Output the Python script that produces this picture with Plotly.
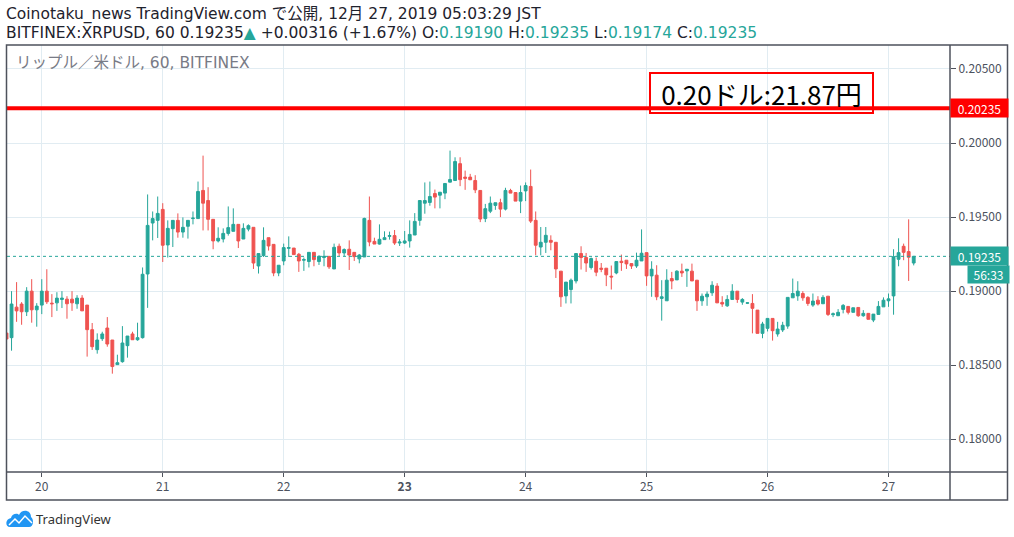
import pandas as pd
import plotly.graph_objects as go

# BITFINEX:XRPUSD 60 min candles (JST)
start_time = '2019-12-19 17:00'

opens = [0.18717, 0.18686, 0.18892, 0.18913, 0.18861, 0.19000, 0.18874, 0.18906, 0.19000, 0.18919,
         0.18921, 0.18944, 0.18946, 0.18946, 0.18915, 0.18953, 0.18906, 0.18740, 0.18605, 0.18679,
         0.18751, 0.18670, 0.18504, 0.18524, 0.18632, 0.18711, 0.18672, 0.18686, 0.19116, 0.19460,
         0.19478, 0.19552, 0.19312, 0.19422, 0.19478, 0.19399, 0.19438, 0.19490, 0.19490, 0.19680,
         0.19612, 0.19485, 0.19339, 0.19352, 0.19390, 0.19404, 0.19451, 0.19352, 0.19419, 0.19431,
         0.19170, 0.19240, 0.19361, 0.19316, 0.19123, 0.19204, 0.19289, 0.19291, 0.19249, 0.19209,
         0.19200, 0.19262, 0.19200, 0.19227, 0.19235, 0.19150, 0.19303, 0.19258, 0.19283, 0.19262,
         0.19218, 0.19231, 0.19478, 0.19336, 0.19318, 0.19348, 0.19370, 0.19375, 0.19325, 0.19325,
         0.19339, 0.19379, 0.19478, 0.19594, 0.19599, 0.19659, 0.19648, 0.19662, 0.19736, 0.19747,
         0.19861, 0.19770, 0.19770, 0.19747, 0.19680, 0.19490, 0.19540, 0.19579, 0.19597, 0.19554,
         0.19680, 0.19666, 0.19608, 0.19677, 0.19707, 0.19478, 0.19298, 0.19330, 0.19343, 0.19330,
         0.19135, 0.18968, 0.19011, 0.19069, 0.19254, 0.19227, 0.19160, 0.19202, 0.19155, 0.19155,
         0.19101, 0.19123, 0.19202, 0.19209, 0.19186, 0.19170, 0.19204, 0.19260, 0.19103, 0.19108,
         0.18951, 0.18935, 0.19085, 0.19076, 0.19135, 0.19137, 0.19135, 0.19074, 0.18935, 0.18962,
         0.18989, 0.19034, 0.18924, 0.18901, 0.18944, 0.19000, 0.18926, 0.18919, 0.18917, 0.18872,
         0.18715, 0.18749, 0.18816, 0.18711, 0.18738, 0.18764, 0.18955, 0.18968, 0.18984, 0.18958,
         0.18906, 0.18939, 0.18915, 0.18966, 0.18841, 0.18834, 0.18877, 0.18897, 0.18857, 0.18890,
         0.18834, 0.18850, 0.18805, 0.18843, 0.18894, 0.18935, 0.18968, 0.19215, 0.19303, 0.19267,
         0.19190]
highs = [0.18717, 0.19000, 0.19061, 0.18926, 0.19027, 0.19081, 0.18919, 0.19081, 0.19148, 0.18980,
         0.18993, 0.19000, 0.18966, 0.19000, 0.18973, 0.18973, 0.18906, 0.18785, 0.18715, 0.18726,
         0.18825, 0.18670, 0.18571, 0.18764, 0.18697, 0.18726, 0.18787, 0.19160, 0.19653, 0.19538,
         0.19639, 0.19594, 0.19478, 0.19478, 0.19525, 0.19498, 0.19478, 0.19538, 0.19740, 0.19915,
         0.19702, 0.19485, 0.19431, 0.19424, 0.19572, 0.19559, 0.19451, 0.19458, 0.19451, 0.19431,
         0.19254, 0.19431, 0.19361, 0.19316, 0.19175, 0.19321, 0.19370, 0.19291, 0.19258, 0.19227,
         0.19262, 0.19262, 0.19242, 0.19276, 0.19235, 0.19321, 0.19321, 0.19289, 0.19343, 0.19262,
         0.19251, 0.19496, 0.19639, 0.19361, 0.19451, 0.19404, 0.19402, 0.19413, 0.19352, 0.19406,
         0.19478, 0.19527, 0.19612, 0.19734, 0.19740, 0.19686, 0.19668, 0.19727, 0.19949, 0.19904,
         0.19904, 0.19814, 0.19792, 0.19783, 0.19680, 0.19589, 0.19639, 0.19597, 0.19624, 0.19698,
         0.19691, 0.19666, 0.19713, 0.19734, 0.19821, 0.19538, 0.19433, 0.19433, 0.19377, 0.19330,
         0.19135, 0.19061, 0.19085, 0.19254, 0.19303, 0.19258, 0.19227, 0.19227, 0.19190, 0.19155,
         0.19173, 0.19200, 0.19247, 0.19209, 0.19186, 0.19260, 0.19417, 0.19260, 0.19202, 0.19175,
         0.19074, 0.19148, 0.19130, 0.19141, 0.19186, 0.19148, 0.19186, 0.19074, 0.18984, 0.18998,
         0.19067, 0.19054, 0.18966, 0.18973, 0.19047, 0.19000, 0.18953, 0.18926, 0.18980, 0.18872,
         0.18793, 0.18816, 0.18816, 0.18793, 0.18793, 0.18958, 0.19085, 0.19067, 0.19000, 0.18966,
         0.18984, 0.18966, 0.18973, 0.18966, 0.18856, 0.18879, 0.18913, 0.18897, 0.18888, 0.18890,
         0.18872, 0.18850, 0.18845, 0.18933, 0.18958, 0.18984, 0.19283, 0.19357, 0.19321, 0.19485,
         0.19235]
lows = [0.18677, 0.18598, 0.18793, 0.18773, 0.18832, 0.18787, 0.18760, 0.18845, 0.18913, 0.18825,
        0.18867, 0.18886, 0.18814, 0.18867, 0.18881, 0.18867, 0.18558, 0.18603, 0.18578, 0.18664,
        0.18625, 0.18443, 0.18504, 0.18517, 0.18551, 0.18672, 0.18665, 0.18680, 0.18887, 0.19343,
        0.19359, 0.19197, 0.19227, 0.19298, 0.19361, 0.19361, 0.19355, 0.19451, 0.19490, 0.19410,
        0.19410, 0.19283, 0.19329, 0.19329, 0.19375, 0.19404, 0.19291, 0.19352, 0.19404, 0.19150,
        0.19119, 0.19231, 0.19274, 0.19101, 0.19101, 0.19175, 0.19231, 0.19247, 0.19130, 0.19137,
        0.19160, 0.19168, 0.19177, 0.19168, 0.19150, 0.19150, 0.19236, 0.19236, 0.19143, 0.19204,
        0.19188, 0.19231, 0.19303, 0.19318, 0.19314, 0.19348, 0.19348, 0.19312, 0.19305, 0.19318,
        0.19294, 0.19379, 0.19442, 0.19523, 0.19577, 0.19559, 0.19559, 0.19621, 0.19736, 0.19747,
        0.19709, 0.19684, 0.19752, 0.19662, 0.19466, 0.19466, 0.19527, 0.19549, 0.19500, 0.19545,
        0.19662, 0.19608, 0.19527, 0.19608, 0.19460, 0.19242, 0.19242, 0.19258, 0.19276, 0.19089,
        0.18894, 0.18917, 0.18917, 0.19052, 0.19146, 0.19130, 0.19146, 0.19101, 0.19128, 0.19034,
        0.19011, 0.19114, 0.19137, 0.19150, 0.19150, 0.19157, 0.19204, 0.19036, 0.18962, 0.18939,
        0.18801, 0.18935, 0.19013, 0.19076, 0.19096, 0.19029, 0.19069, 0.18867, 0.18901, 0.18901,
        0.18968, 0.18921, 0.18894, 0.18894, 0.18944, 0.18921, 0.18908, 0.18913, 0.18715, 0.18715,
        0.18682, 0.18728, 0.18666, 0.18693, 0.18724, 0.18746, 0.18955, 0.18935, 0.18935, 0.18901,
        0.18894, 0.18903, 0.18915, 0.18832, 0.18825, 0.18832, 0.18850, 0.18843, 0.18857, 0.18827,
        0.18827, 0.18810, 0.18791, 0.18843, 0.18894, 0.18894, 0.18841, 0.19168, 0.19209, 0.19069,
        0.19174]
closes = [0.18677, 0.18913, 0.18867, 0.18861, 0.19000, 0.18874, 0.18899, 0.19000, 0.18928, 0.18915,
          0.18953, 0.18953, 0.18915, 0.18921, 0.18953, 0.18867, 0.18740, 0.18625, 0.18670, 0.18711,
          0.18643, 0.18491, 0.18517, 0.18650, 0.18697, 0.18672, 0.18686, 0.19114, 0.19444, 0.19490,
          0.19525, 0.19310, 0.19424, 0.19478, 0.19399, 0.19431, 0.19478, 0.19493, 0.19673, 0.19594,
          0.19485, 0.19339, 0.19357, 0.19390, 0.19429, 0.19451, 0.19339, 0.19424, 0.19442, 0.19190,
          0.19254, 0.19343, 0.19305, 0.19123, 0.19175, 0.19294, 0.19294, 0.19247, 0.19204, 0.19213,
          0.19262, 0.19213, 0.19235, 0.19235, 0.19164, 0.19296, 0.19258, 0.19281, 0.19244, 0.19233,
          0.19244, 0.19491, 0.19332, 0.19318, 0.19350, 0.19361, 0.19375, 0.19325, 0.19332, 0.19339,
          0.19383, 0.19471, 0.19612, 0.19612, 0.19639, 0.19635, 0.19668, 0.19727, 0.19754, 0.19875,
          0.19753, 0.19762, 0.19752, 0.19684, 0.19487, 0.19557, 0.19594, 0.19597, 0.19554, 0.19680,
          0.19662, 0.19608, 0.19666, 0.19713, 0.19473, 0.19310, 0.19330, 0.19377, 0.19330, 0.19150,
          0.18962, 0.19061, 0.19074, 0.19254, 0.19227, 0.19190, 0.19220, 0.19128, 0.19148, 0.19110,
          0.19096, 0.19200, 0.19193, 0.19184, 0.19170, 0.19209, 0.19256, 0.19103, 0.19148, 0.18962,
          0.18962, 0.19074, 0.19069, 0.19135, 0.19123, 0.19148, 0.19069, 0.18935, 0.18966, 0.18980,
          0.19040, 0.18921, 0.18913, 0.18944, 0.19000, 0.18944, 0.18944, 0.18921, 0.18884, 0.18715,
          0.18778, 0.18816, 0.18733, 0.18744, 0.18770, 0.18958, 0.18984, 0.19000, 0.18955, 0.18917,
          0.18933, 0.18913, 0.18958, 0.18843, 0.18847, 0.18857, 0.18904, 0.18857, 0.18888, 0.18834,
          0.18850, 0.18810, 0.18845, 0.18897, 0.18939, 0.18948, 0.19233, 0.19260, 0.19262, 0.19229,
          0.19235]

times = pd.date_range(start_time, periods=len(opens), freq='h')

day_ticks = ['2019-12-20', '2019-12-21', '2019-12-22', '2019-12-23',
             '2019-12-24', '2019-12-25', '2019-12-26', '2019-12-27']
day_labels = ['20', '21', '22', '<b>23</b>', '24', '25', '26', '27']
price_ticks = [0.180, 0.185, 0.190, 0.195, 0.200, 0.205]

last_price = 0.19235
level_price = 0.20235
countdown = '56:33'

UP = '#26a69a'
DOWN = '#ef5350'
FRAME = '#4e525c'
TXT = '#4c525e'
JP = 'Noto Sans CJK JP'
HEAD = 'DejaVu Sans, Noto Sans CJK JP'

# pixel -> paper helpers (plot area 7..950 x 45..472)
L, R, T, B = 7, 950, 45, 472
def px(x):
    return (x - L) / (R - L)
def py(y):
    return (B - y) / (B - T)

fig = go.Figure()
fig.add_trace(go.Candlestick(
    x=times, open=opens, high=highs, low=lows, close=closes,
    increasing=dict(line=dict(color=UP, width=1), fillcolor=UP),
    decreasing=dict(line=dict(color=DOWN, width=1), fillcolor=DOWN),
    whiskerwidth=0, showlegend=False, hoverinfo='skip'))

fig.update_layout(
    width=1014, height=537,
    margin=dict(l=L, r=1014 - R, t=T, b=537 - B),
    paper_bgcolor='white', plot_bgcolor='white',
    font=dict(family=JP, color=TXT, size=12),
    showlegend=False,
    boxgap=0.2,
    xaxis=dict(type='date', range=['2019-12-19 17:06', '2019-12-27 12:12'],
               rangeslider=dict(visible=False),
               tickvals=day_ticks, ticktext=day_labels,
               showgrid=True, gridcolor='#e1ecf2', gridwidth=1,
               ticks='outside', ticklen=4, tickcolor=FRAME,
               tickfont=dict(size=12, color=TXT), zeroline=False, showline=False),
    yaxis=dict(side='right', range=[0.17779, 0.20662],
               tickvals=price_ticks, tickformat='.5f',
               showgrid=True, gridcolor='#e1ecf2', gridwidth=1,
               ticks='outside', ticklen=5, tickcolor=FRAME,
               tickfont=dict(size=12, color=TXT), zeroline=False, showline=False),
)

shapes = [
    # red price level
    dict(type='line', xref='paper', yref='y', x0=0, x1=1, y0=level_price, y1=level_price,
         line=dict(color='#ff0000', width=4)),
    # last price dotted
    dict(type='line', xref='paper', yref='y', x0=0, x1=1, y0=last_price, y1=last_price,
         line=dict(color=UP, width=1, dash='dot')),
    # outer frame
    dict(type='rect', xref='paper', yref='paper', x0=px(6.5), x1=px(1007.5), y0=py(500), y1=py(45),
         line=dict(color=FRAME, width=1.5)),
    dict(type='line', xref='paper', yref='paper', x0=px(6.5), x1=px(1007.5), y0=0, y1=0,
         line=dict(color=FRAME, width=1.5)),
    dict(type='line', xref='paper', yref='paper', x0=1, x1=1, y0=py(500), y1=py(45),
         line=dict(color=FRAME, width=1.5)),
]

# TradingView logo cloud
def pth(cmds):
    out = []
    for c in cmds:
        if isinstance(c, str):
            out.append(c)
        else:
            out.append('%.5f,%.5f' % (px(c[0]), py(c[1])))
    return ' '.join(out)

cloud = pth(['M', (10, 527), 'C', (5, 527), (5, 519), (11, 518),
             'C', (12, 513), (18, 513), (19, 515),
             'C', (21, 509), (31, 509), (31, 517),
             'C', (34, 519), (34, 527), (29, 527), 'Z'])
zig = pth(['M', (9, 525), 'L', (15, 519), 'L', (19, 523), 'L', (25, 516), 'L', (32, 523)])
shapes.append(dict(type='path', xref='paper', yref='paper', path=cloud,
                   fillcolor='#2196f3', line=dict(width=0)))
shapes.append(dict(type='path', xref='paper', yref='paper', path=zig,
                   line=dict(color='white', width=1.5)))
fig.update_layout(shapes=shapes)

teal = lambda s: '<span style="color:%s">%s</span>' % (UP, s)
header2 = ('BITFINEX:XRPUSD, 60 0.19235' + teal('▲') + ' +0.00316 (+1.67%) O:' + teal('0.19190')
           + ' H:' + teal('0.19235') + ' L:' + teal('0.19174') + ' C:' + teal('0.19235'))

annotations = [
    dict(text='Coinotaku_news TradingView.com で公開, 12月 27, 2019 05:03:29 JST',
         xref='paper', yref='paper', x=px(4), y=py(15), xanchor='left', yanchor='middle',
         showarrow=False, font=dict(family=HEAD, size=15.5, color='#1e222d')),
    dict(text=header2, xref='paper', yref='paper', x=px(4), y=py(33), xanchor='left', yanchor='middle',
         showarrow=False, font=dict(family=HEAD, size=15.5, color='#1e222d')),
    dict(text='リップル／米ドル, 60, BITFINEX', xref='paper', yref='paper', x=px(14), y=py(63),
         xanchor='left', yanchor='middle', showarrow=False,
         font=dict(family=HEAD, size=15.5, color='#787b86')),
    dict(text='0.20ドル:21.87円', xref='paper', yref='paper', x=px(649.3), y=py(71.7),
         xanchor='left', yanchor='top', showarrow=False, width=219, height=36,
         borderpad=1, bordercolor='#ff0000', borderwidth=2, align='center', valign='middle',
         font=dict(family=JP, size=26, color='#000000')),
    dict(text='%.5f' % level_price, xref='paper', yref='y', x=1, y=level_price,
         xanchor='left', yanchor='middle', showarrow=False, width=53, height=14, borderpad=2,
         bgcolor='#ff0000', font=dict(size=12, color='white')),
    dict(text='%.5f' % last_price, xref='paper', yref='y', x=1, y=last_price,
         xanchor='left', yanchor='middle', showarrow=False, width=53, height=14, borderpad=2,
         bgcolor=UP, font=dict(size=12, color='white')),
    dict(text=countdown, xref='paper', yref='paper', x=px(967), y=py(274.7),
         xanchor='left', yanchor='middle', showarrow=False, width=37, height=13, borderpad=2,
         bgcolor=UP, font=dict(size=12, color='white')),
    dict(text='TradingView', xref='paper', yref='paper', x=px(34), y=py(519),
         xanchor='left', yanchor='middle', showarrow=False,
         font=dict(family='Noto Sans', size=13, color='#333333')),
]
fig.update_layout(annotations=annotations)

fig.write_html('out.html', config={'displayModeBar': False},
               post_script="document.body.style.margin='0';")
